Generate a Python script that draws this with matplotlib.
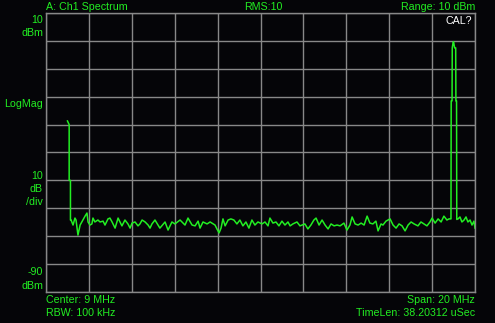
import numpy as np
import matplotlib
matplotlib.use("Agg")
import matplotlib.pyplot as plt

# trace: frequency in MHz, level in dBm
# DC spike at the left edge
dc_f = [0.00, 0.08, 0.08, 0.14, 0.14]
dc_l = [-28.7, -30.0, -50.0, -50.0, -64.2]

# noise floor up to the tone
floor1_f = [0.17, 0.26, 0.35, 0.40, 0.49, 0.59, 0.72, 0.82,
            0.91, 0.96, 1.05, 1.14, 1.19, 1.28, 1.42, 1.52,
            1.66, 1.75, 1.89, 1.98, 2.08, 2.22, 2.36, 2.45,
            2.54, 2.68, 2.82, 2.92, 3.01, 3.15, 3.29, 3.38,
            3.48, 3.62, 3.76, 3.85, 3.94, 4.08, 4.22, 4.31,
            4.55, 4.69, 4.87, 5.01, 5.25, 5.48, 5.62, 5.81,
            5.95, 6.09, 6.18, 6.32, 6.51, 6.65, 6.88, 6.97,
            7.07, 7.16, 7.25, 7.35, 7.49, 7.62, 7.76, 7.90,
            8.04, 8.18, 8.32, 8.46, 8.60, 8.74, 8.88, 9.07,
            9.21, 9.35, 9.44, 9.58, 9.72, 9.86, 10.00, 10.14,
            10.28, 10.38, 10.51, 10.70, 10.84, 11.07, 11.21, 11.35,
            11.49, 11.59, 11.73, 11.87, 12.01, 12.15, 12.29, 12.43,
            12.57, 12.71, 12.89, 13.03, 13.17, 13.27, 13.41, 13.55,
            13.69, 13.83, 13.97, 14.10, 14.24, 14.38, 14.48, 14.62,
            14.71, 14.85, 15.04, 15.18, 15.32, 15.46, 15.60, 15.74,
            15.88, 16.02, 16.16, 16.34, 16.48, 16.62, 16.76, 16.90,
            17.00, 17.14, 17.28, 17.42, 17.55, 17.69, 17.79, 17.88]
floor1_l = [-64.2, -66.0, -63.5, -64.2, -69.6, -66.0, -64.2, -62.8,
            -61.7, -64.9, -66.0, -65.6, -63.5, -64.9, -64.2, -64.9,
            -64.6, -66.0, -63.8, -63.5, -64.9, -67.1, -63.5, -64.9,
            -66.3, -64.2, -65.6, -67.1, -65.3, -64.9, -66.3, -65.6,
            -64.2, -64.9, -66.0, -67.1, -65.6, -64.2, -66.0, -67.1,
            -64.9, -67.8, -64.9, -65.6, -64.2, -66.0, -63.5, -66.0,
            -66.3, -64.6, -67.1, -64.9, -65.6, -64.9, -66.0, -67.4,
            -68.8, -67.1, -63.8, -66.3, -64.2, -63.8, -64.2, -65.6,
            -64.2, -66.3, -64.9, -67.1, -64.2, -66.0, -64.9, -65.6,
            -64.9, -66.3, -63.5, -65.3, -64.9, -66.3, -64.6, -66.0,
            -64.9, -66.3, -65.6, -64.9, -66.3, -65.6, -67.4, -66.0,
            -64.2, -63.5, -66.0, -64.2, -66.0, -67.4, -65.6, -66.3,
            -66.0, -66.3, -65.3, -67.8, -66.0, -63.1, -65.6, -66.0,
            -65.3, -66.0, -62.8, -65.3, -65.6, -64.6, -68.1, -65.6,
            -66.0, -64.6, -63.8, -66.0, -67.1, -65.6, -66.3, -68.1,
            -66.0, -64.9, -65.6, -66.3, -64.9, -65.6, -66.3, -64.9,
            -63.5, -65.3, -63.8, -64.9, -62.8, -64.2, -63.8, -63.8]

# tone near 18 MHz
tone_f = [17.89, 17.93, 17.94, 17.98, 18.00, 18.05, 18.10, 18.11, 18.14, 18.15]
tone_l = [-21.5, -21.5, -2.5, -0.5, -0.3, -2.5, -2.5, -21.5, -21.5, -64.0]

# noise floor after the tone
floor2_f = [18.21, 18.30, 18.39, 18.49, 18.58, 18.67, 18.77, 18.86, 18.95, 19.00]
floor2_l = [-63.8, -63.1, -64.9, -64.2, -63.1, -64.9, -64.2, -66.0, -64.6, -67.1]

freq_mhz = dc_f + floor1_f + tone_f + floor2_f
level_dbm = dc_l + floor1_l + tone_l + floor2_l

center_mhz = 9
span_mhz = 20
top_dbm = 10
db_per_div = 10
n_div = 10

green = "#22ee22"
grey = "#888888"
bg = "#050508"

W, H = 495, 323
fig = plt.figure(figsize=(W / 100, H / 100), dpi=100, facecolor=bg)
ax = fig.add_axes([46 / W, (H - 292) / H, 429 / W, 279 / H], facecolor=bg)

f0 = center_mhz - span_mhz / 2
f1 = center_mhz + span_mhz / 2
bottom_dbm = top_dbm - db_per_div * n_div
ax.set_xlim(f0, f1)
ax.set_ylim(bottom_dbm, top_dbm)
ax.set_xticks(np.linspace(f0, f1, n_div + 1))
ax.set_yticks(np.linspace(bottom_dbm, top_dbm, n_div + 1))
ax.grid(True, color=grey, lw=1.0)
ax.tick_params(length=0, labelbottom=False, labelleft=False)
for s in ax.spines.values():
    s.set_color(grey)
    s.set_linewidth(1.0)

ax.plot(freq_mhz, level_dbm, color=green, lw=1.1)

font = "Liberation Sans"
fs = 7.7


def txt(x, y, s, ha="left", color=green):
    fig.text(x / W, 1 - y / H, s, ha=ha, va="center", color=color,
             fontsize=fs, family=font)


txt(46, 7, "A: Ch1 Spectrum")
txt(263, 7, "RMS:10", ha="center")
txt(475, 7, "Range: 10 dBm", ha="right")
txt(472, 21, "CAL?", ha="right", color="white")

txt(43, 20, "10", ha="right")
txt(43, 33, "dBm", ha="right")
txt(43, 104, "LogMag", ha="right")
txt(43, 176, "10", ha="right")
txt(43, 189, "dB", ha="right")
txt(43, 202, "/div", ha="right")
txt(43, 272, "-90", ha="right")
txt(43, 286, "dBm", ha="right")

txt(46, 300, "Center: 9 MHz")
txt(46, 313, "RBW: 100 kHz")
txt(475, 300, "Span: 20 MHz", ha="right")
txt(475, 313, "TimeLen: 38.20312 uSec", ha="right")

fig.savefig("out.png", dpi=100, facecolor=bg)
